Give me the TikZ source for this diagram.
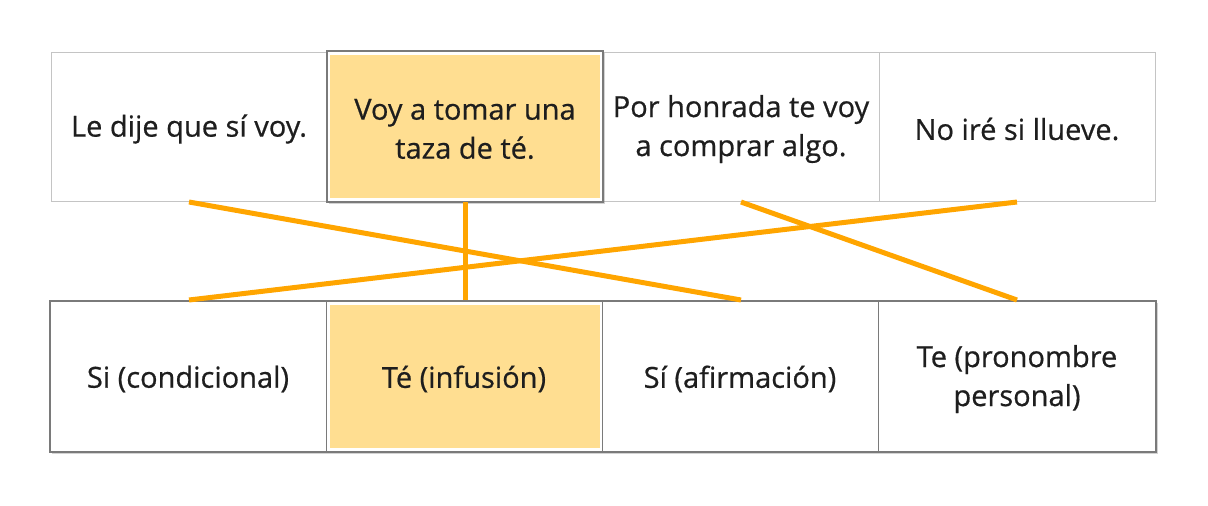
\documentclass[tikz,border=0pt]{standalone}
\usepackage{fontspec}
\setmainfont[FakeBold=0.6]{Open Sans}
\usetikzlibrary{shadows}
\definecolor{hl}{HTML}{FFDE91}
\definecolor{conn}{HTML}{FFA500}
\definecolor{txt}{HTML}{1E1E1E}
\definecolor{lightb}{HTML}{C4C4C4}
\definecolor{darkb}{HTML}{7A7A7A}
\tikzset{
  lbl/.style={text=txt, align=center, inner sep=0pt, font=\fontsize{29}{39}\selectfont},
  cell/.style={draw=lightb, line width=1pt},
  hlframe/.style={draw=darkb, line width=1.2pt, fill=white, drop shadow={opacity=0.35, shadow xshift=1.5pt, shadow yshift=-1.5pt}},
  hlfill/.style={fill=hl, draw=none},
  conline/.style={draw=conn, line width=5pt},
}
\begin{document}
\begin{tikzpicture}[x=1pt,y=-1pt]
\useasboundingbox (0,0) rectangle (1208,506);
% top row
\draw[cell] (51,52) rectangle (1155,201);
\draw[cell] (603,52) -- (603,201);
\draw[cell] (879,52) -- (879,201);
\path[hlframe] (327,51) rectangle (603,202);
\path[hlfill] (330,55) rectangle (600,198);
% bottom row
\path[hlframe] (50,301) rectangle (1156,452);
\draw[draw=darkb, line width=1pt] (326,301) -- (326,452);
\draw[draw=darkb, line width=1pt] (602,301) -- (602,452);
\draw[draw=darkb, line width=1pt] (878,301) -- (878,452);
\path[hlfill] (330,305) rectangle (600,448);
% nodes
\node[lbl] (t1) at (189,129) {Le dije que sí voy.};
\node[lbl] (t2) at (465,129) {Voy a tomar una\\taza de té.};
\node[lbl] (t3) at (741,129) {Por honrada te voy\\a comprar algo.};
\node[lbl] (t4) at (1017,129) {No iré si llueve.};
\node[lbl] (b1) at (188,379) {Si (condicional)};
\node[lbl] (b2) at (464,379) {Té (infusión)};
\node[lbl] (b3) at (740,379) {Sí (afirmación)};
\node[lbl] (b4) at (1017,379) {Te (pronombre\\personal)};
% anchor points for connectors
\coordinate (t1s) at (189,202);
\coordinate (t2s) at (465,202);
\coordinate (t3s) at (741,202);
\coordinate (t4s) at (1017,202);
\coordinate (b1n) at (189,300);
\coordinate (b2n) at (465,300);
\coordinate (b3n) at (741,300);
\coordinate (b4n) at (1017,300);
\draw[conline] (t1s) -- (b3n);
\draw[conline] (t2s) -- (b2n);
\draw[conline] (t3s) -- (b4n);
\draw[conline] (t4s) -- (b1n);
\end{tikzpicture}
\end{document}
